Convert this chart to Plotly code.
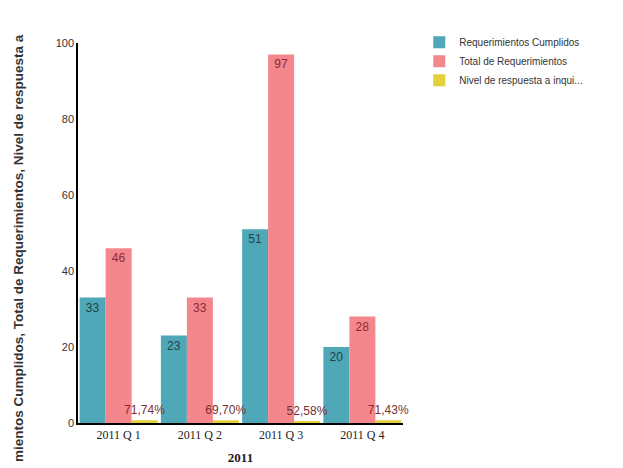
import plotly.graph_objects as go

categories = ["2011 Q 1", "2011 Q 2", "2011 Q 3", "2011 Q 4"]
cumplidos = [33, 23, 51, 20]
totales = [46, 33, 97, 28]
nivel = [0.7174, 0.6970, 0.5258, 0.7143]
nivel_labels = ["71,74%", "69,70%", "52,58%", "71,43%"]
y_ticks = [0, 20, 40, 60, 80, 100]

fig = go.Figure()
fig.add_trace(go.Bar(
    x=categories, y=cumplidos, name="Requerimientos Cumplidos",
    marker=dict(color="#4ea8b7", line=dict(width=0)),
    text=[str(v) for v in cumplidos], textposition="inside", insidetextanchor="end",
    textfont=dict(family="Liberation Sans", size=12, color="#23424a"),
))
fig.add_trace(go.Bar(
    x=categories, y=totales, name="Total de Requerimientos",
    marker=dict(color="#f4878c", line=dict(width=0)),
    text=[str(v) for v in totales], textposition="inside", insidetextanchor="end",
    textfont=dict(family="Liberation Sans", size=12, color="#8a2a35"),
))
fig.add_trace(go.Bar(
    x=categories, y=nivel, name="Nivel de respuesta a inqui...",
    marker=dict(color="#e2cf3a", line=dict(width=0)),
    text=nivel_labels, textposition="outside", cliponaxis=False,
    textfont=dict(family="Liberation Sans", size=12, color="#7a3030"),
))

fig.update_layout(
    width=623, height=468,
    margin=dict(l=70, r=228, t=35, b=53, autoexpand=False),
    paper_bgcolor="white", plot_bgcolor="white",
    barmode="group", bargap=0.04, bargroupgap=0.0,
    uniformtext=dict(minsize=12, mode="show"),
    showlegend=True,
    legend=dict(x=1.05, y=1.04, xanchor="left", yanchor="top",
                font=dict(family="Liberation Sans", size=10, color="#333"),
                itemwidth=30, tracegroupgap=0, bgcolor="rgba(0,0,0,0)"),
    xaxis=dict(
        showline=True, linecolor="black", linewidth=1.5, showgrid=False,
        ticks="", automargin=False,
        tickfont=dict(family="Liberation Serif", size=12, color="#222"),
        title=dict(text="<b>2011</b>", font=dict(family="Liberation Serif", size=13, color="#222"), standoff=12),
    ),
    yaxis=dict(
        range=[0, 100], tickvals=y_ticks, showline=True, linecolor="black", linewidth=1.5,
        showgrid=False, zeroline=False, ticks="", automargin=False,
        tickfont=dict(family="Liberation Sans", size=11, color="#333"),
    ),
    annotations=[dict(
        text="<b>mientos Cumplidos, Total de Requerimientos, Nivel de respuesta a</b>",
        textangle=-90, xref="paper", yref="paper", x=-0.185, y=0.46,
        xanchor="center", yanchor="middle", showarrow=False,
        font=dict(family="Liberation Sans", size=13.5, color="#333"),
    )],
)

fig.write_html("out.html")
